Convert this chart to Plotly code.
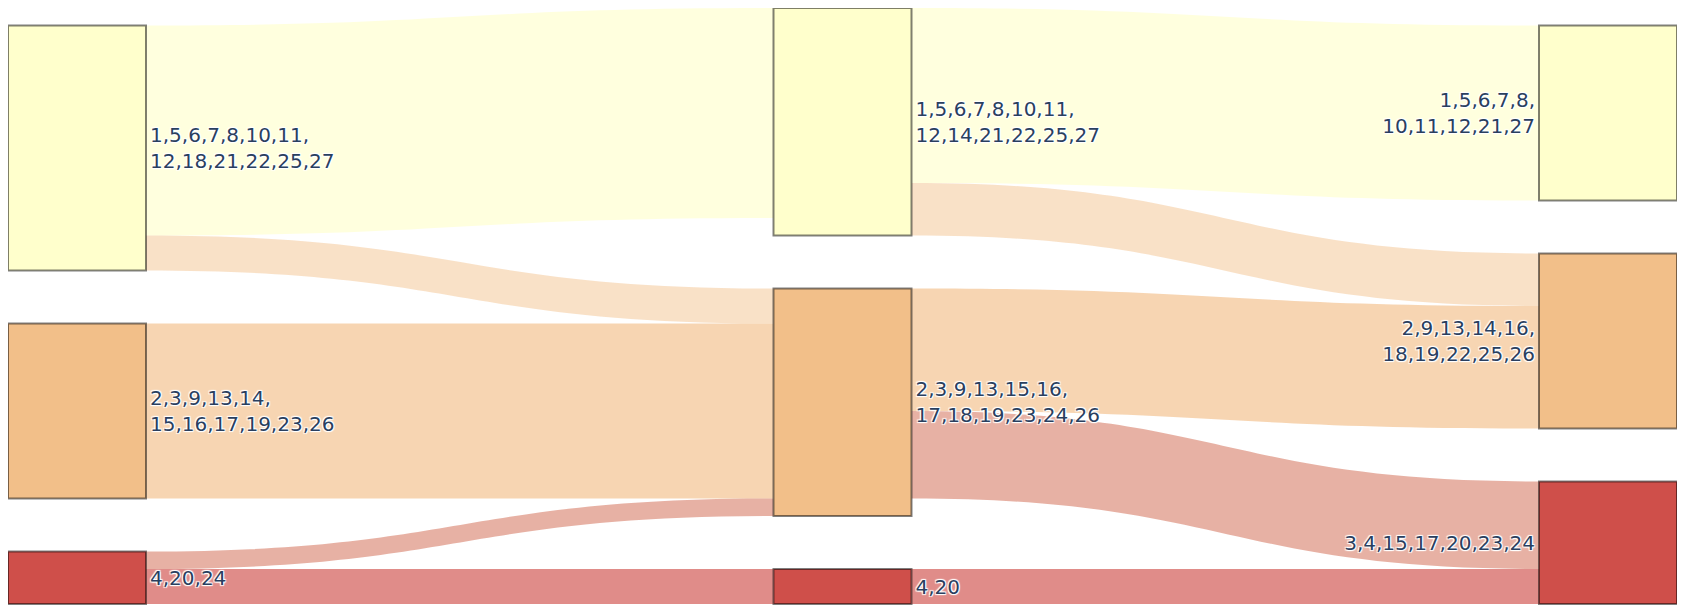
import plotly.graph_objects as go

# node labels: three time points, three classes each (low / mid / high)
labels = [
    "1,5,6,7,8,10,11,<br>12,18,21,22,25,27",
    "2,3,9,13,14,<br>15,16,17,19,23,26",
    "4,20,24",
    "1,5,6,7,8,10,11,<br>12,14,21,22,25,27",
    "2,3,9,13,15,16,<br>17,18,19,23,24,26",
    "4,20",
    "1,5,6,7,8,<br>10,11,12,21,27",
    "2,9,13,14,16,<br>18,19,22,25,26",
    "3,4,15,17,20,23,24",
]
node_class = [0, 1, 2, 0, 1, 2, 0, 1, 2]

# links between time points
sources = [0, 0, 1, 2, 2, 3, 3, 4, 4, 5]
targets = [3, 4, 4, 4, 5, 6, 7, 7, 8, 8]
values = [12, 2, 10, 1, 2, 10, 3, 7, 5, 2]

node_palette = [(255, 255, 204), (242, 191, 137), (207, 79, 74)]
# colour used for a link when the class changes (takes the worse class)
change_palette = [(255, 255, 204), (242, 191, 137), (203, 89, 61)]

node_colors = ["rgb(%d,%d,%d)" % node_palette[c] for c in node_class]

link_colors = []
for s, t in zip(sources, targets):
    cs, ct = node_class[s], node_class[t]
    if cs == ct:
        r, g, b = node_palette[cs]
        a = 0.65
    else:
        r, g, b = change_palette[max(cs, ct)]
        a = 0.47
    link_colors.append("rgba(%d,%d,%d,%s)" % (r, g, b, a))

fig = go.Figure(go.Sankey(
    node=dict(
        label=labels,
        color=node_colors,
        pad=53,
        thickness=138,
        line=dict(color="rgba(0,0,0,0.5)", width=2),
    ),
    link=dict(
        source=sources,
        target=targets,
        value=values,
        color=link_colors,
    ),
    textfont=dict(family="DejaVu Sans", size=20, color="#2a3f5f"),
))

fig.update_layout(
    width=1685,
    height=608,
    margin=dict(l=0, r=16, t=0, b=12),
    paper_bgcolor="white",
)

fig.write_html("out.html")
